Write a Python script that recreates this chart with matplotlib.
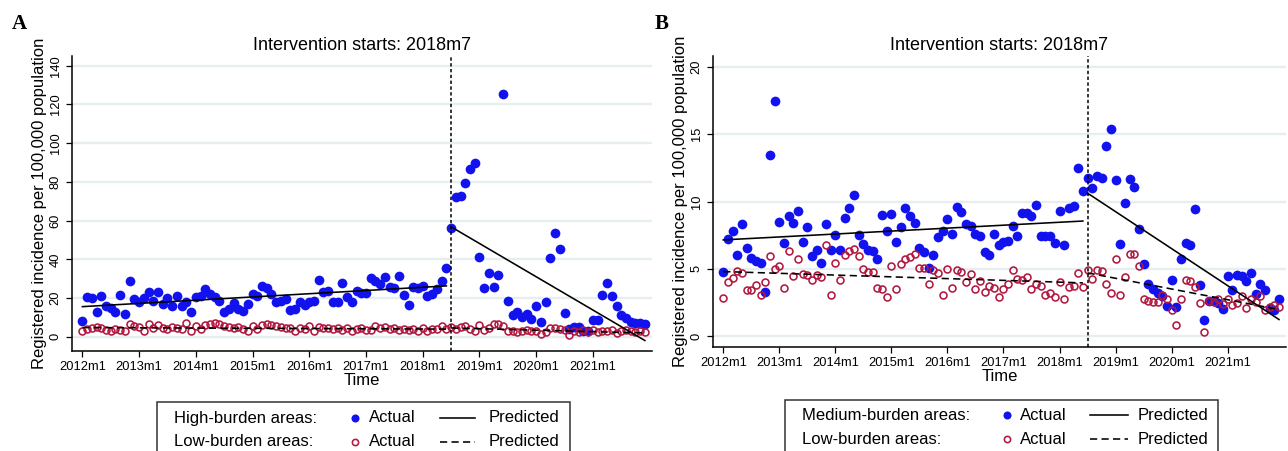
import numpy as np
import matplotlib
matplotlib.use('Agg')
import matplotlib.pyplot as plt
from matplotlib.lines import Line2D
from matplotlib.patches import Rectangle

# ---------------- data ----------------
tick_labels = ['2012m1', '2013m1', '2014m1', '2015m1', '2016m1',
               '2017m1', '2018m1', '2019m1', '2020m1', '2021m1']
n_months = 120           # 2012m1 .. 2021m12
intervention_month = 78  # 2018m7

A_high = [8.3, 20.5, 20, 13, 21, 16, 15, 13, 21.5, 11.8, 29, 19.5,
          18, 20, 23.4, 18.7, 23, 17, 20, 16, 21, 16, 18, 12.6,
          20.5, 21, 24.6, 22, 20.5, 18.7, 13, 14.4, 17.3, 14.4, 13.5, 17,
          22, 21.3, 26, 25, 22, 18, 18.7, 19.6, 13.9, 14.4, 17.8, 16.6,
          17.8, 18.7, 29.5, 23.4, 23.6, 18.2, 18.2, 27.7, 20.5, 17.8, 23.6, 22.7,
          22.7, 30.3, 29, 27.4, 30.8, 25.6, 25.3, 31.5, 21.7, 16.5, 25.6, 25,
          26.5, 21, 22, 24.8, 29, 35.5, 56, 72, 72.6, 79.4, 86.8, 90,
          41.4, 25, 33, 25.6, 32, 125.6, 18.7, 11.3, 13, 10, 11.8, 9.2,
          16, 7.5, 18.2, 40.7, 53.7, 45.6, 12.1, 4, 5.2, 5, 3, 3,
          8.7, 8.7, 21.5, 27.7, 21, 16, 11.4, 9.7, 7.5, 7, 7, 6.6]

A_low = [3.0, 4.2, 4.8, 5.2, 4.6, 3.4, 3.2, 4.0, 3.5, 3.0, 6.5, 5.5,
         5.0, 3.2, 6.8, 4.5, 6.0, 4.4, 4.0, 5.0, 4.4, 4.2, 7.0, 3.2,
         5.6, 4.0, 6.0, 6.8, 7.0, 6.5, 5.8, 5.0, 4.6, 5.2, 3.8, 3.0,
         5.5, 4.0, 6.0, 6.5, 6.2, 5.5, 5.0, 4.4, 4.8, 3.2, 4.6, 4.0,
         5.4, 3.2, 5.0, 4.6, 4.6, 4.0, 4.8, 3.6, 4.4, 3.2, 4.0, 4.4,
         3.4, 3.6, 5.8, 4.6, 5.0, 4.2, 4.8, 3.6, 4.0, 3.4, 3.8, 3.0,
         4.4, 3.0, 4.2, 4.0, 5.4, 3.8, 5.2, 4.2, 5.2, 5.4, 4.0, 3.2,
         6.2, 3.6, 4.8, 6.6, 6.8, 5.6, 2.8, 3.0, 2.6, 3.0, 3.4, 3.2,
         2.8, 1.6, 2.4, 4.4, 4.6, 3.8, 3.6, 0.8, 3.0, 2.6, 3.4, 2.6,
         3.4, 2.6, 3.2, 2.8, 3.4, 2.2, 3.0, 3.6, 2.8, 2.6, 3.0, 2.4]

B_medium = [4.74, 7.24, 7.78, 6.05, 8.35, 6.55, 5.8, 5.6, 5.4, 3.3, 13.46, 17.46,
            8.47, 6.9, 8.9, 8.4, 9.3, 7.0, 8.08, 5.97, 6.37, 5.44, 8.35, 6.37,
            7.51, 6.42, 8.77, 9.5, 10.5, 7.49, 6.85, 6.42, 6.35, 5.73, 9.0, 7.78,
            9.09, 7.0, 8.1, 9.55, 8.9, 8.4, 6.55, 6.25, 5.06, 6.05, 7.33, 7.78,
            8.69, 7.58, 9.56, 9.19, 8.33, 8.15, 7.58, 7.41, 6.25, 6.05, 7.58, 6.74,
            6.96, 7.04, 8.2, 7.46, 9.14, 9.14, 8.94, 9.76, 7.46, 7.46, 7.41, 6.9,
            9.31, 6.8, 9.5, 9.7, 12.47, 10.75, 11.72, 10.98, 11.9, 11.78, 14.1, 15.36,
            11.56, 6.86, 9.88, 11.66, 11.07, 7.98, 5.36, 3.9, 3.5, 3.2, 3.0, 2.28,
            4.2, 2.2, 5.76, 6.9, 6.79, 9.43, 3.83, 1.24, 2.6, 2.6, 2.5, 2.0,
            4.45, 3.4, 4.57, 4.5, 4.1, 4.7, 3.1, 3.9, 3.46, 2.1, 1.96, 2.8]

B_low = [2.87, 4.0, 4.32, 4.87, 4.7, 3.41, 3.41, 3.78, 3.09, 4.0, 5.97, 4.99,
         5.23, 3.6, 6.34, 4.44, 5.75, 4.62, 4.52, 4.15, 4.57, 4.4, 6.74, 3.04,
         5.43, 4.2, 6.0, 6.3, 6.47, 5.97, 4.99, 4.77, 4.77, 3.6, 3.47, 2.9,
         5.18, 3.47, 5.38, 5.75, 5.9, 6.1, 5.1, 5.1, 3.85, 4.9, 4.69, 3.09,
         5.0, 3.6, 4.9, 4.77, 4.0, 4.62, 3.5, 4.1, 3.3, 3.75, 3.6, 2.9,
         3.47, 3.85, 4.9, 4.27, 4.2, 4.4, 3.53, 3.9, 3.7, 3.09, 3.2, 2.9,
         4.0, 2.74, 3.63, 3.7, 4.69, 3.63, 4.89, 4.27, 4.9, 4.87, 3.85, 3.24,
         5.75, 3.09, 4.4, 6.1, 6.1, 5.18, 2.74, 2.6, 2.57, 2.57, 3.09, 2.8,
         1.93, 0.82, 2.74, 4.2, 4.1, 3.65, 2.5, 0.33, 2.64, 2.57, 2.77, 2.4,
         2.8, 2.3, 2.44, 3.0, 2.1, 2.8, 2.57, 3.0, 1.98, 2.2, 2.3, 2.2]

# predicted (segmented regression) lines: month endpoints and fitted values
pred_pre_x = [0, 77]
pred_post_x = [78, 119]
A_high_pred_pre = [15.6, 26.3]
A_high_pred_post = [56.8, -1.9]
A_low_pred_pre = [4.8, 4.0]
A_low_pred_post = [4.6, 2.0]
B_med_pred_pre = [7.15, 8.55]
B_med_pred_post = [10.62, 1.24]
B_low_pred_pre = [4.8, 3.96]
B_low_pred_post = [4.7, 1.98]

A_yticks = [0, 20, 40, 60, 80, 100, 120, 140]
B_yticks = [0, 5, 10, 15, 20]

# ---------------- styling ----------------
W, H, DPI = 1288, 451, 100
plt.rcParams['font.family'] = ['Liberation Sans', 'DejaVu Sans']
fig = plt.figure(figsize=(W / DPI, H / DPI), dpi=DPI)

BLUE = '#1212EE'
RED = '#B2183F'
GRID = '#E6EEF0'


def rect(l, r, t, b):
    return [l / W, 1 - b / H, (r - l) / W, (b - t) / H]


def px(x, y):
    return (x / W, 1 - y / H)


months = np.arange(n_months)
tick_pos = months[::12][:len(tick_labels)]


def panel(ax, high, low, hp_pre, hp_post, lp_pre, lp_post, ylim, yticks):
    ax.plot(months, high, 'o', color=BLUE, ms=7.0, mew=0, zorder=3)
    ax.plot(months, low, 'o', mfc='none', mec=RED, ms=5.0, mew=1.15, zorder=4)
    ax.plot(pred_pre_x, hp_pre, '-', color='black', lw=1.15, zorder=5)
    ax.plot(pred_post_x, hp_post, '-', color='black', lw=1.15, zorder=5)
    ax.plot(pred_pre_x, lp_pre, color='black', lw=1.15, dashes=(4.5, 2.7), zorder=5)
    ax.plot(pred_post_x, lp_post, color='black', lw=1.15, dashes=(4.5, 2.7), zorder=5)
    ax.axvline(intervention_month, color='black', lw=1.1, dashes=(2.2, 1.6), zorder=6)
    ax.set_xlim(-2.2, 120.5)
    ax.set_ylim(*ylim)
    ax.set_yticks(yticks)
    ax.set_xticks(tick_pos)
    ax.set_xticklabels(tick_labels)
    ax.yaxis.grid(True, color=GRID, lw=1.7)
    ax.set_axisbelow(True)
    for s in ['top', 'right']:
        ax.spines[s].set_visible(False)
    for s in ['left', 'bottom']:
        ax.spines[s].set_linewidth(1.1)
    ax.tick_params(axis='both', length=4, width=0.9, labelsize=9.3, pad=3.5)
    for lab in ax.get_yticklabels():
        lab.set_rotation(90)
        lab.set_va('center')
    ax.set_xlabel('Time', fontsize=12, labelpad=0)
    ax.set_ylabel('Registered incidence per 100,000 population', fontsize=12, labelpad=2)
    ax.set_title('Intervention starts: 2018m7', fontsize=13, pad=4)


axA = fig.add_axes(rect(72, 652, 56, 351))
panel(axA, A_high, A_low, A_high_pred_pre, A_high_pred_post,
      A_low_pred_pre, A_low_pred_post, (-7.3, 145), A_yticks)

axB = fig.add_axes(rect(713, 1286, 56, 347))
panel(axB, B_medium, B_low, B_med_pred_pre, B_med_pred_post,
      B_low_pred_pre, B_low_pred_post, (-0.8, 20.8), B_yticks)

# panel letters
fig.text(*px(12, 24), 'A', fontsize=15, fontweight='bold',
         family=['Liberation Serif', 'DejaVu Serif'], va='center', ha='left')
fig.text(*px(655, 24), 'B', fontsize=15, fontweight='bold',
         family=['Liberation Serif', 'DejaVu Serif'], va='center', ha='left')


# legends (drawn as figure-level artists)
def legend(box_l, box_r, top, label1, label2, lab_x, mk_x, act_x, ln_l, ln_r, pred_x, rows):
    fig.add_artist(Rectangle(px(box_l, 460), (box_r - box_l) / W, (460 - top) / H,
                             transform=fig.transFigure, fill=False,
                             edgecolor='#333333', lw=1.1, clip_on=False))
    for (lab, y, filled, dash) in [(label1, rows[0], True, None), (label2, rows[1], False, (4.5, 2.7))]:
        fig.text(*px(lab_x, y), lab, fontsize=12, va='center', ha='left')
        if filled:
            fig.add_artist(Line2D([mk_x / W], [1 - y / H], marker='o', color=BLUE,
                                  ms=5.8, mew=0, ls='none', transform=fig.transFigure))
        else:
            fig.add_artist(Line2D([mk_x / W], [1 - y / H], marker='o', mfc='none', mec=RED,
                                  ms=4.5, mew=1.15, ls='none', transform=fig.transFigure))
        fig.text(*px(act_x, y), 'Actual', fontsize=12, va='center', ha='left')
        ln = Line2D([ln_l / W, ln_r / W], [1 - y / H, 1 - y / H], color='black', lw=1.15,
                    transform=fig.transFigure)
        if dash is not None:
            ln.set_dashes(dash)
        fig.add_artist(ln)
        fig.text(*px(pred_x, y), 'Predicted', fontsize=12, va='center', ha='left')


legend(157, 570, 402, 'High-burden areas:', 'Low-burden areas:',
       174, 355, 369, 440, 475, 489, (418, 442))
legend(785, 1218, 400, 'Medium-burden areas:', 'Low-burden areas:',
       802, 1007, 1020, 1090, 1128, 1138, (415, 439))

fig.savefig('out.png', dpi=DPI)
